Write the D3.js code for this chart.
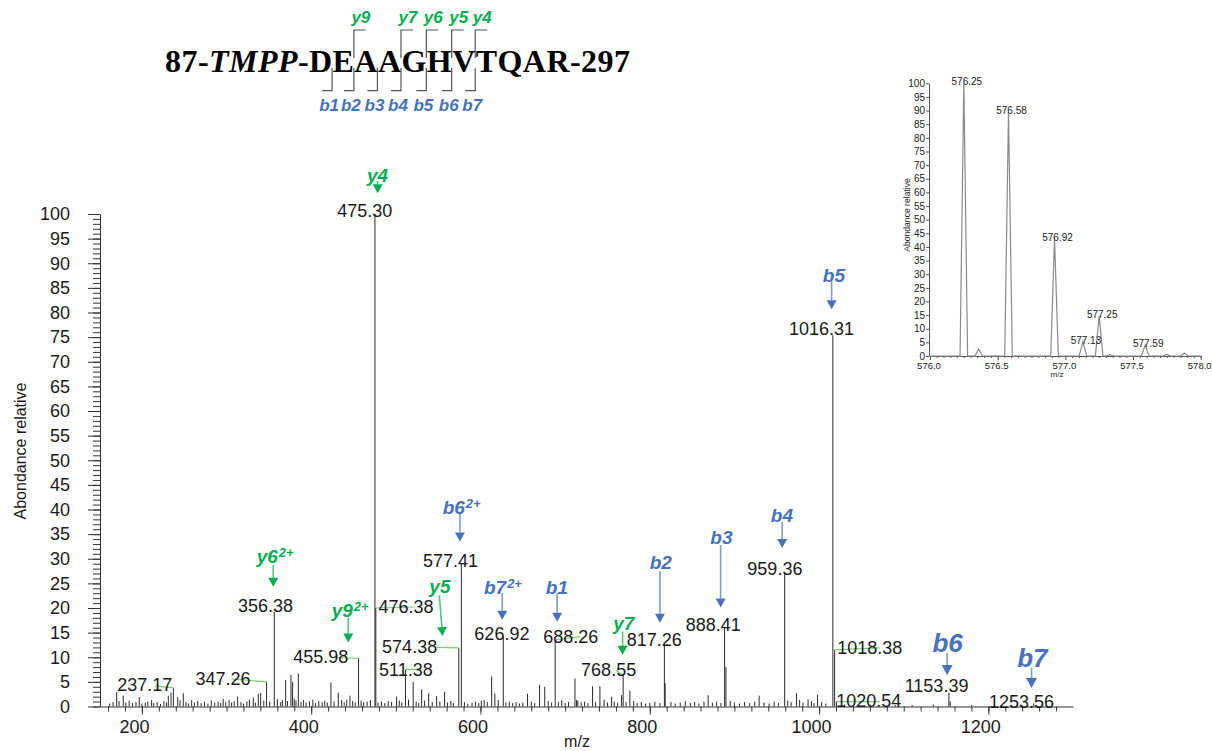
<!DOCTYPE html>
<html>
<head>
<meta charset="utf-8">
<script src="https://cdn.jsdelivr.net/npm/d3@7"></script>
<style>
  html, body { margin: 0; padding: 0; background: #fff; }
  svg { display: block; font-family: "Liberation Sans", Arial, sans-serif; }
</style>
</head>
<body>
<svg id="chart" width="1212" height="751"></svg>
<script>
// ---------------- data ----------------
// MS/MS spectrum of the TMPP-derivatised N-terminal peptide (m/z, relative abundance)
const labeledPeaks = [
  [237.17, 3.8], [347.26, 5.0], [356.38, 19.2], [455.98, 9.8], [475.30, 100],
  [476.38, 20.0], [511.38, 7.5], [574.38, 11.9], [577.41, 28.9], [626.92, 14.2],
  [688.26, 13.5], [768.55, 6.4], [817.26, 12.5], [888.41, 16.2], [959.36, 27.2],
  [1016.31, 75.4], [1018.38, 11.5], [1020.54, 1.0], [1153.39, 2.8], [1253.56, 0.6]
];
const otherPeaks = [
  [170.2, 2.9], [178.0, 2.2], [196.9, 1.9], [211.5, 1.3], [231.2, 2.2], [234.4, 2.8],
  [242.3, 1.9], [248.9, 2.7], [258.8, 1.3], [296.0, 1.5], [313.1, 2.0], [331.6, 1.8],
  [337.5, 2.6], [340.3, 2.8], [369.8, 5.4], [376.1, 6.4], [378.0, 5.0], [384.8, 6.7],
  [423.3, 4.9], [432.0, 2.8], [445.8, 2.2], [500.9, 2.0], [520.5, 5.0], [530.5, 3.5],
  [538.8, 2.7], [548.2, 2.1], [557.6, 3.0], [604.4, 1.3], [613.2, 6.1], [617.0, 2.6],
  [655.6, 2.6], [669.8, 4.4], [675.9, 4.0], [711.6, 5.7], [713.5, 1.3], [732.4, 4.1],
  [741.1, 4.1], [754.9, 2.0], [766.7, 2.3], [776.5, 3.2], [818.2, 4.7], [869.0, 2.3],
  [890.0, 8.0], [929.2, 2.2], [973.4, 2.7], [987.0, 1.5], [998.2, 2.4], [1155.0, 1.0]
];
const noisePeaks = [
  [162, 0.6], [166, 0.9], [173, 1.1], [181, 0.8], [185, 1.2], [189, 0.7], [193, 0.9],
  [200, 0.6], [204, 0.8], [207, 1.0], [214, 0.7], [218, 0.9], [222, 0.5], [226, 1.1],
  [229, 0.8], [245, 1.3], [252, 0.9], [255, 0.6], [262, 0.8], [266, 1.1], [270, 0.7],
  [274, 1.0], [278, 0.6], [282, 1.2], [286, 0.8], [290, 1.0], [293, 0.7], [299, 0.9],
  [303, 1.3], [306, 0.8], [309, 1.1], [317, 0.9], [320, 0.6], [324, 1.0], [327, 1.4],
  [334, 0.8], [344, 1.2], [351, 1.0], [360, 1.5], [364, 0.9], [366, 1.3], [372, 1.1],
  [380, 1.6], [382, 1.2], [388, 0.9], [391, 1.3], [394, 0.8], [398, 1.0], [402, 1.4],
  [405, 0.7], [409, 1.1], [413, 0.9], [416, 1.2], [419, 0.8], [427, 1.0], [436, 1.3],
  [439, 0.9], [442, 1.4], [449, 1.1], [452, 0.8], [459, 1.2], [462, 0.9], [466, 1.0],
  [470, 1.3], [479, 0.8], [483, 1.0], [487, 0.7], [491, 1.1], [495, 0.9], [504, 1.2],
  [507, 0.8], [515, 1.4], [524, 1.0], [527, 0.7], [534, 1.2], [543, 0.9], [552, 1.0],
  [561, 0.8], [565, 1.1], [568, 0.7], [581, 0.9], [585, 0.6], [590, 0.8], [594, 1.0],
  [598, 0.7], [601, 1.2], [608, 0.9], [621, 1.3], [630, 0.8], [634, 1.0], [638, 0.7],
  [642, 0.9], [646, 0.6], [650, 0.8], [660, 1.0], [664, 0.7], [680, 1.1], [684, 0.8],
  [692, 0.9], [696, 1.3], [700, 0.7], [704, 0.9], [715, 1.2], [719, 0.8], [723, 1.0],
  [727, 0.7], [736, 0.9], [746, 1.4], [750, 0.8], [758, 1.0], [762, 0.7], [772, 0.9],
  [781, 1.1], [785, 0.7], [790, 0.9], [795, 0.6], [800, 0.8], [806, 1.0], [812, 0.7],
  [825, 0.9], [830, 0.6], [836, 0.8], [842, 1.1], [848, 0.7], [853, 0.9], [858, 0.6],
  [864, 1.0], [874, 0.8], [879, 1.0], [884, 0.7], [895, 1.1], [900, 0.8], [906, 0.6],
  [912, 0.9], [918, 0.7], [924, 1.0], [935, 0.8], [941, 0.6], [947, 1.0], [952, 0.7],
  [963, 1.2], [967, 0.9], [977, 1.3], [981, 0.8], [991, 1.1], [994, 0.7], [1003, 0.9],
  [1008, 0.6], [1030, 0.4], [1045, 0.3], [1060, 0.4], [1090, 0.3], [1110, 0.3],
  [1135, 0.4], [1180, 0.3], [1215, 0.3], [1240, 0.3]
];

// where each m/z label sits (m/z, abundance) and where its leader line starts
const peakLabelLayout = [
  { mz: 237.17, at: [203.3, 4.4], link: [215.5, 4.2] },
  { mz: 347.26, at: [295.8, 5.7], link: [306.0, 5.6] },
  { mz: 356.38, at: [346.0, 20.6] },
  { mz: 455.98, at: [411.3, 10.2], link: [425.7, 9.9] },
  { mz: 475.30, at: [463.3, 100.8] },
  { mz: 476.38, at: [511.9, 20.2], link: [522.6, 20.2] },
  { mz: 511.38, at: [511.9, 7.5], link: [530.5, 7.6] },
  { mz: 574.38, at: [516.3, 12.1], link: [548.2, 12.0] },
  { mz: 577.41, at: [564.7, 29.7] },
  { mz: 626.92, at: [625.3, 14.9] },
  { mz: 688.26, at: [706.6, 14.2], link: [717.5, 14.2] },
  { mz: 768.55, at: [751.4, 7.5], link: [760.0, 7.3] },
  { mz: 817.26, at: [805.4, 13.5] },
  { mz: 888.41, at: [874.9, 16.7] },
  { mz: 959.36, at: [947.8, 28.1] },
  { mz: 1016.31, at: [1002.9, 76.7] },
  { mz: 1018.38, at: [1060.0, 11.9], link: [1071.8, 11.9] },
  { mz: 1020.54, at: [1058.8, 1.2], link: [1071.8, 1.0] },
  { mz: 1153.39, at: [1138.8, 4.2] },
  { mz: 1253.56, at: [1239.2, 1.1] }
];

// fragment-ion annotations: name, charge, series, arrow m/z, text position, arrow span
const ionAnnotations = [
  { ion: "y4", z: 1, s: "y", ax: 478.5, tx: 478.3, ty: 107.9, from: 106.7, to: 104.2 },
  { ion: "b5", z: 1, s: "b", ax: 1014.8, tx: 1017.5, ty: 87.6, from: 86.3, to: 80.65 },
  { ion: "b6", z: 2, s: "b", ax: 575.7, tx: 555.3, ty: 40.5, from: 39.3, to: 33.5 },
  { ion: "b7", z: 2, s: "b", ax: 625.7, tx: 604.1, ty: 24.3, from: 23.05, to: 17.6 },
  { ion: "b1", z: 1, s: "b", ax: 690.6, tx: 690.3, ty: 24.3, from: 23.05, to: 17.2 },
  { ion: "b2", z: 1, s: "b", ax: 812.0, tx: 813.1, ty: 29.3, from: 27.5, to: 17.0 },
  { ion: "b3", z: 1, s: "b", ax: 883.7, tx: 884.6, ty: 34.4, from: 32.8, to: 20.1 },
  { ion: "b4", z: 1, s: "b", ax: 956.4, tx: 956.1, ty: 38.9, from: 37.5, to: 32.2 },
  { ion: "y7", z: 1, s: "y", ax: 767.9, tx: 769.4, ty: 17.0, from: 15.2, to: 10.5 },
  { ion: "b6", z: 1, s: "b", ax: 1151.3, tx: 1151.8, ty: 12.9, from: 10.9, to: 6.4, big: true },
  { ion: "b7", z: 1, s: "b", ax: 1251.0, tx: 1252.0, ty: 9.85, from: 7.8, to: 3.76, big: true },
  { ion: "y6", z: 2, s: "y", ax: 355.2, tx: 335.6, ty: 30.6, from: 28.7, to: 24.3 },
  { ion: "y9", z: 2, s: "y", ax: 443.8, tx: 424.2, ty: 19.6, from: 18.0, to: 13.0 },
  { ion: "y5", z: 1, s: "y", ax: 551.3, axTo: 555.3, tx: 552.1, ty: 24.5, from: 22.6, to: 14.3 }
];

// peptide sequence and fragment coverage
const seqPrefix = "87-", seqTag = "TMPP", sequence = "DEAAGHVTQAR", seqSuffix = "-297";
const bIons = [1, 2, 3, 4, 5, 6, 7];
const yIons = [9, 7, 6, 5, 4];

// isotopic cluster of the precursor (inset)
const insetPeaks = [
  [576.25, 100], [576.36, 2.5], [576.58, 89.5], [576.92, 43.0], [577.13, 5.2],
  [577.25, 14.7], [577.33, 0.5], [577.59, 4.0], [577.75, 0.6], [577.88, 1.1]
];
const insetLabels = [576.25, 576.58, 576.92, 577.13, 577.25, 577.59];

// tick values
const xMajorTicks = [200, 400, 600, 800, 1000, 1200];
const xMinorTicks = d3.range(160, 1300, 20);
const yMajorTicks = d3.range(0, 101, 5);
const yMinorTicks = d3.range(0, 101, 1);
const insetXTicks = [576.0, 576.5, 577.0, 577.5, 578.0];
const insetXMinor = d3.range(576, 578.001, 0.05);
const insetYTicks = d3.range(0, 101, 5);

// ---------------- drawing ----------------
const GREEN = "#00b050", BLUE = "#4472c4", LINK = "#72cf72", INK = "#1a1a1a";
const svg = d3.select("#chart");

const x = d3.scaleLinear().domain([150.5, 1300]).range([100, 1073]);
const y = d3.scaleLinear().domain([0, 100]).range([706.5, 214]);

// x axis
svg.append("g").attr("transform", `translate(0,${y(0)})`)
  .call(d3.axisBottom(x).tickValues(xMinorTicks).tickSize(5).tickFormat("").tickSizeOuter(0));
const gxMajor = svg.append("g").attr("transform", `translate(0,${y(0)})`)
  .call(d3.axisBottom(x).tickValues(xMajorTicks).tickSize(8).tickPadding(6).tickFormat(d3.format("d")));
gxMajor.select(".domain").remove();
gxMajor.selectAll("text").attr("dx", -8).style("font-size", "18px").attr("fill", INK);

// y axis
svg.append("g").attr("transform", `translate(${x.range()[0]},0)`)
  .call(d3.axisLeft(y).tickValues(yMinorTicks).tickSize(7).tickFormat("").tickSizeOuter(0));
const gyMajor = svg.append("g").attr("transform", `translate(${x.range()[0]},0)`)
  .call(d3.axisLeft(y).tickValues(yMajorTicks).tickSize(12).tickPadding(18).tickFormat(d3.format("d")));
gyMajor.select(".domain").remove();
gyMajor.selectAll("text").style("font-size", "18px").attr("fill", INK);
svg.selectAll(".domain, .tick line").attr("stroke", "#333");

svg.append("text").attr("transform", "translate(20,451) rotate(-90)")
  .attr("text-anchor", "middle").attr("dy", "0.35em")
  .style("font-size", "16px").attr("fill", INK).text("Abondance relative");
svg.append("text").attr("x", 577).attr("y", 741).attr("dy", "0.35em")
  .attr("text-anchor", "middle").style("font-size", "16px").attr("fill", INK).text("m/z");

// spectrum sticks
const allPeaks = noisePeaks.concat(otherPeaks, labeledPeaks);
svg.append("g").selectAll("line").data(allPeaks).join("line")
  .attr("x1", d => x(d[0])).attr("x2", d => x(d[0]))
  .attr("y1", y(0)).attr("y2", d => y(d[1]))
  .attr("stroke", "#2a2a2a").attr("stroke-width", 1);

// m/z labels with leader lines
const intensityOf = new Map(labeledPeaks.map(d => [d[0], d[1]]));
const gLab = svg.append("g");
peakLabelLayout.forEach(l => {
  if (l.link) {
    gLab.append("line")
      .attr("x1", x(l.link[0])).attr("y1", y(l.link[1]))
      .attr("x2", x(l.mz)).attr("y2", y(intensityOf.get(l.mz)))
      .attr("stroke", LINK).attr("stroke-width", 1.2);
  }
  gLab.append("text").attr("x", x(l.at[0])).attr("y", y(l.at[1])).attr("dy", "0.36em")
    .attr("text-anchor", "middle").style("font-size", "18px").attr("fill", INK)
    .text(l.mz.toFixed(2));
});

// ion annotations with arrows
const gIon = svg.append("g");
ionAnnotations.forEach(a => {
  const col = a.s === "y" ? GREEN : BLUE;
  const fs = a.big ? 26 : 19;
  const t = gIon.append("text").attr("x", x(a.tx)).attr("y", y(a.ty)).attr("dy", "0.36em")
    .attr("text-anchor", a.z > 1 ? "start" : "middle")
    .style("font-size", fs + "px").style("font-weight", "bold").style("font-style", "italic")
    .attr("fill", col);
  t.append("tspan").text(a.ion);
  if (a.z > 1) {
    t.append("tspan").attr("dy", "-0.45em").attr("dx", 1).style("font-size", "13px").text(a.z + "+");
  }
  const x0 = x(a.ax), x1 = x(a.axTo !== undefined ? a.axTo : a.ax);
  const yTop = y(a.from), yTip = y(a.to);
  const hh = a.big ? 10 : 9, hw = a.big ? 5.5 : 5;
  const ang = Math.atan2(yTip - yTop, x1 - x0);
  const bx = x1 - hh * Math.cos(ang), by = yTip - hh * Math.sin(ang);
  gIon.append("line").attr("x1", x0).attr("y1", yTop).attr("x2", bx).attr("y2", by)
    .attr("stroke", col).attr("stroke-opacity", 0.7).attr("stroke-width", 1.6);
  const px = -Math.sin(ang) * hw, py = Math.cos(ang) * hw;
  gIon.append("path")
    .attr("d", `M${x1},${yTip}L${bx + px},${by + py}L${bx - px},${by - py}Z`)
    .attr("fill", col);
});

// peptide sequence with fragment brackets
const title = svg.append("text").attr("x", 165).attr("y", 71.7)
  .style("font-family", '"Liberation Serif", "Times New Roman", serif')
  .style("font-weight", "bold").style("font-size", "32px").attr("fill", "#000");
title.append("tspan").text(seqPrefix);
title.append("tspan").style("font-style", "italic").text(seqTag);
title.append("tspan").text("-" + sequence + seqSuffix);
title.attr("textLength", 465).attr("lengthAdjust", "spacing");

const seqStart = (seqPrefix + seqTag + "-").length;
const tn = title.node();
const cut = n => tn.getStartPositionOfChar(seqStart + n).x - 0.5;
const gSeq = svg.append("g").attr("fill", "none").attr("stroke", "#555").attr("stroke-width", 1.2);
bIons.forEach(n => {
  const cx = cut(n);
  gSeq.append("path").attr("d", `M${cx},68V90.7H${cx - 10}`);
  svg.append("text").attr("x", cx - 3).attr("y", 105).attr("dy", "0.36em").attr("text-anchor", "middle")
    .style("font-size", "17px").style("font-weight", "bold").style("font-style", "italic")
    .attr("fill", BLUE).text("b" + n);
});
yIons.forEach(n => {
  const cx = cut(sequence.length - n);
  gSeq.append("path").attr("d", `M${cx},58V30H${cx + 12}`);
  svg.append("text").attr("x", cx + 7).attr("y", 16.7).attr("dy", "0.36em").attr("text-anchor", "middle")
    .style("font-size", "17px").style("font-weight", "bold").style("font-style", "italic")
    .attr("fill", GREEN).text("y" + n);
});

// ---------------- inset: precursor isotope cluster ----------------
const ix = d3.scaleLinear().domain([576, 578]).range([930, 1200.7]);
const iy = d3.scaleLinear().domain([0, 100]).range([356, 83.3]);
const gi = svg.append("g");

gi.append("g").attr("transform", `translate(0,${iy(0)})`)
  .call(d3.axisBottom(ix).tickValues(insetXMinor).tickSize(2).tickFormat("").tickSizeOuter(0));
const gix = gi.append("g").attr("transform", `translate(0,${iy(0)})`)
  .call(d3.axisBottom(ix).tickValues(insetXTicks).tickSize(4).tickPadding(2).tickFormat(d3.format(".1f")));
gix.select(".domain").remove();
gi.append("g").attr("transform", `translate(${ix(576) - 1},0)`)
  .call(d3.axisLeft(iy).tickValues(insetYTicks).tickSize(3).tickPadding(1).tickSizeOuter(0).tickFormat(d3.format("d")));
gi.selectAll("text").style("font-size", "10px").attr("fill", INK);
gix.selectAll("text").attr("dx", -1.5).style("font-size", "9.5px");
gi.selectAll(".domain, .tick line").attr("stroke", "#555");

const insetPts = [[576, 0]];
insetPeaks.forEach(([m, h]) => { insetPts.push([m - 0.028, 0], [m, h], [m + 0.028, 0]); });
insetPts.push([578, 0]);
gi.append("path").datum(insetPts)
  .attr("d", d3.line().x(d => ix(d[0])).y(d => iy(d[1])))
  .attr("fill", "none").attr("stroke", "#8a8a8a").attr("stroke-width", 1.2);

const insetMap = new Map(insetPeaks);
gi.selectAll("text.ilab").data(insetLabels).join("text").attr("class", "ilab")
  .attr("x", d => ix(d) + 3).attr("y", d => iy(insetMap.get(d)) + 2)
  .attr("text-anchor", "middle").style("font-size", "10px").attr("fill", INK)
  .text(d => d.toFixed(2));

gi.append("text").attr("transform", "translate(907,215) rotate(-90)").attr("text-anchor", "middle")
  .attr("dy", "0.35em").style("font-size", "8.6px").attr("fill", INK).text("Abondance relative");
gi.append("text").attr("x", 1057).attr("y", 374).attr("dy", "0.35em").attr("text-anchor", "middle")
  .style("font-size", "8px").attr("fill", INK).text("m/z");
</script>
</body>
</html>
